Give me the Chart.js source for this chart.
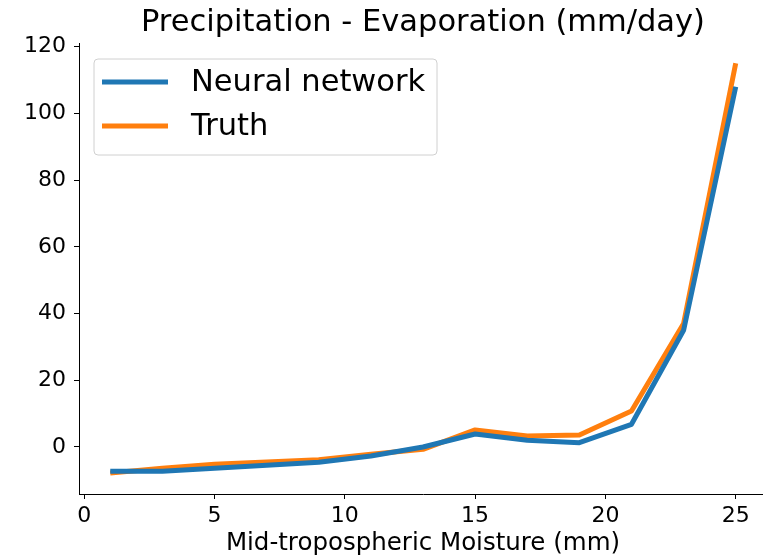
<!DOCTYPE html>
<html>
<head>
<meta charset="utf-8">
<script src="https://cdn.jsdelivr.net/npm/chart.js@4.4.1/dist/chart.umd.min.js"></script>
<style>
    html, body { margin: 0; padding: 0; background: #fff; overflow: hidden; }
    #wrap { width: 763px; height: 559px; overflow: hidden; }
</style>
</head>
<body>
<div id="wrap"><canvas id="chart" width="846" height="559"></canvas></div>
<script>
// Mid-tropospheric moisture bins (mm)
const moisture = [1, 3, 5, 7, 9, 11, 13, 15, 17, 19, 21, 23, 25];
const neuralNetwork = [-7.3, -7.3, -6.4, -5.5, -4.6, -2.7, 0, 3.9, 2, 1.3, 6.8, 35, 108];
const truth = [-7.8, -6.4, -5.2, -4.5, -3.8, -2.2, -0.7, 5.1, 3.3, 3.6, 10.8, 37, 115];
const xTicks = [0, 5, 10, 15, 20, 25];
const yTicks = [0, 20, 40, 60, 80, 100, 120];

const FONT = "'DejaVu Sans', sans-serif";
const BLUE = '#1f77b4';
const ORANGE = '#ff7f0e';
const TITLE = 'Precipitation - Evaporation (mm/day)';

const toPoints = ys => moisture.map((x, i) => ({ x: x, y: ys[i] }));

// Title centred over the axes rather than the whole canvas
const axesTitle = {
    id: 'axesTitle',
    afterDraw(chart) {
        const ctx = chart.ctx;
        const area = chart.chartArea;
        ctx.save();
        ctx.font = '30.5px ' + FONT;
        ctx.fillStyle = '#000';
        ctx.textAlign = 'center';
        ctx.textBaseline = 'middle';
        ctx.fillText(TITLE, (area.left + area.right) / 2, 23);
        ctx.restore();
    }
};

// Legend box drawn inside the axes, matplotlib style
const boxLegend = {
    id: 'boxLegend',
    afterDatasetsDraw(chart) {
        const ctx = chart.ctx;
        const x0 = 94, y0 = 59, w = 343, h = 96;
        ctx.save();
        ctx.beginPath();
        ctx.roundRect(x0, y0, w, h, 4);
        ctx.fillStyle = 'rgba(255,255,255,0.8)';
        ctx.fill();
        ctx.strokeStyle = '#d0d0d0';
        ctx.lineWidth = 1;
        ctx.stroke();
        ctx.font = '30.5px ' + FONT;
        ctx.textBaseline = 'middle';
        ctx.lineCap = 'butt';
        chart.data.datasets.forEach((ds, i) => {
            const yy = y0 + 23 + i * 44;
            ctx.strokeStyle = ds.borderColor;
            ctx.lineWidth = 5;
            ctx.beginPath();
            ctx.moveTo(102, yy);
            ctx.lineTo(168, yy);
            ctx.stroke();
            ctx.fillStyle = '#000';
            ctx.fillText(ds.label, 191, yy + 1);
        });
        ctx.restore();
    }
};

new Chart(document.getElementById('chart'), {
    type: 'line',
    data: {
        datasets: [
            { label: 'Neural network', data: toPoints(neuralNetwork), borderColor: BLUE, backgroundColor: BLUE },
            { label: 'Truth', data: toPoints(truth), borderColor: ORANGE, backgroundColor: ORANGE }
        ]
    },
    options: {
        responsive: false,
        animation: false,
        devicePixelRatio: 1,
        layout: { padding: { left: 0, right: 79, top: 43, bottom: 0 } },
        elements: {
            line: { borderWidth: 5, tension: 0, borderJoinStyle: 'round', borderCapStyle: 'butt' },
            point: { radius: 0, hoverRadius: 0 }
        },
        scales: {
            x: {
                type: 'linear',
                min: -0.2,
                max: 26.2,
                afterFit: s => { s.height = 65; },
                afterBuildTicks: s => { s.ticks = xTicks.map(v => ({ value: v })); },
                grid: { drawOnChartArea: false, drawTicks: true, tickLength: 5, color: '#000' },
                border: { display: true, color: '#000', width: 1 },
                ticks: { color: '#000', padding: 4, maxRotation: 0, font: { family: FONT, size: 22 } },
                title: {
                    display: true,
                    text: 'Mid-tropospheric Moisture (mm)',
                    color: '#000',
                    padding: { top: 0, bottom: 1 },
                    font: { family: FONT, size: 24.5 }
                }
            },
            y: {
                min: -14.1,
                max: 121.1,
                afterFit: s => { s.width = 79; },
                afterBuildTicks: s => { s.ticks = yTicks.map(v => ({ value: v })); },
                grid: { drawOnChartArea: false, drawTicks: true, tickLength: 5, color: '#000' },
                border: { display: true, color: '#000', width: 1 },
                ticks: { color: '#000', padding: 8, font: { family: FONT, size: 22 } }
            }
        },
        plugins: {
            legend: { display: false },
            tooltip: { enabled: false },
            title: { display: false }
        }
    },
    plugins: [boxLegend, axesTitle]
});
</script>
</body>
</html>
